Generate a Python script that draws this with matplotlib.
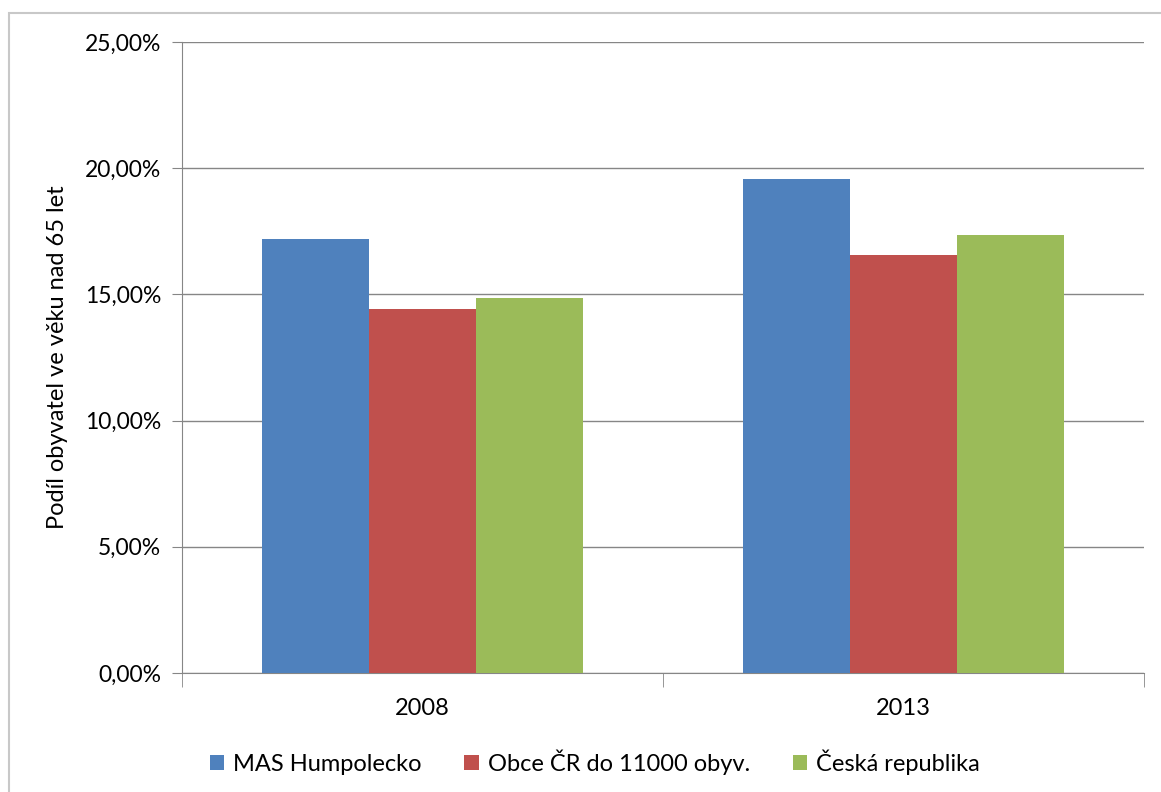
import matplotlib.pyplot as plt
import numpy as np
from matplotlib.patches import Rectangle
from matplotlib.ticker import FuncFormatter

plt.rcParams['font.family'] = ['Lato', 'DejaVu Sans']

# data
years = ['2008', '2013']
series = ['MAS Humpolecko', 'Obce ČR do 11000 obyv.', 'Česká republika']
mas = [17.2, 19.57]
obce = [14.42, 16.58]
cr = [14.86, 17.36]
colors = ['#4f81bd', '#c0504d', '#9bbb59']

fig = plt.figure(figsize=(11.61, 7.92), dpi=100)
ax = fig.add_axes([182/1161, 1-673/792, (1144-182)/1161, (673-42)/792])

# chart border like in Excel
fig.patches.append(Rectangle((9/1161, -0.05), 1.2, 1-13/792+0.05, transform=fig.transFigure,
                             fill=False, edgecolor='#c8c8c8', linewidth=1.5))

x = np.arange(len(years))
w = 0.2225
for i, (vals, name) in enumerate(zip([mas, obce, cr], series)):
    ax.bar(x + (i-1)*w, vals, w, color=colors[i], label=name, zorder=3)

ax.set_xlim(-0.5, 1.5)
ax.set_ylim(0, 25)
ax.set_yticks(np.arange(0, 26, 5))
ax.yaxis.set_major_formatter(FuncFormatter(lambda v, p: f'{v:.2f}%'.replace('.', ',')))
ax.set_xticks(x)
ax.set_xticklabels(years)
ax.set_xticks([-0.5, 0.5, 1.5], minor=True)
ax.tick_params(axis='x', which='major', length=0, pad=18, labelsize=17)
ax.tick_params(axis='x', which='minor', length=10, color='#868686')
ax.tick_params(axis='y', length=7, color='#868686', pad=8, labelsize=16.5)
ax.grid(axis='y', color='#868686', linewidth=1, zorder=0)
for s in ['top', 'right']:
    ax.spines[s].set_visible(False)
for s in ['left', 'bottom']:
    ax.spines[s].set_color('#868686')
ax.set_ylabel('Podíl obyvatel ve věku nad 65 let', fontsize=17)
ax.yaxis.set_label_coords((68-182)/(1144-182), 0.5)

fig.legend(loc='center', bbox_to_anchor=(0.5125, 1-762/792), ncol=3, frameon=False,
           fontsize=17, handlelength=0.6, handleheight=0.6, handletextpad=0.4,
           columnspacing=1.8)

fig.savefig('out.png', dpi=100)
